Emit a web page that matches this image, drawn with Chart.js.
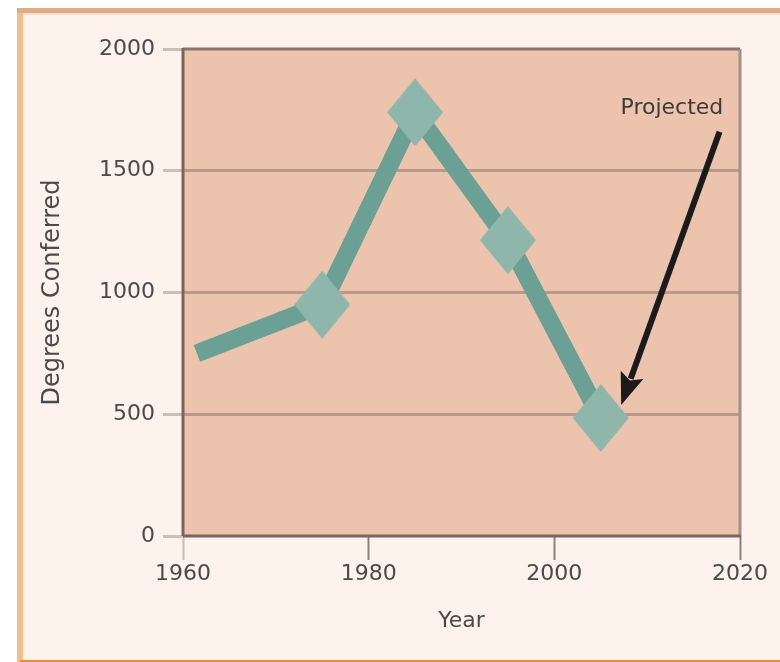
<!DOCTYPE html>
<html>
<head>
<meta charset="utf-8">
<script src="https://cdn.jsdelivr.net/npm/chart.js@4/dist/chart.umd.min.js"></script>
<style>
  html, body { margin: 0; padding: 0; background: #ffffff; }
  #wrap { width: 780px; height: 662px; }
</style>
</head>
<body>
<div id="wrap"><canvas id="c" width="780" height="662"></canvas></div>
<script>
// ---- Data ----
const years   = [1961.5, 1975, 1985, 1995, 2005];
const degrees = [750, 950, 1740, 1215, 485];
const hasMarker = [false, true, true, true, true];
const xTicks = [1960, 1980, 2000, 2020];
const yTicks = [0, 500, 1000, 1500, 2000];
const xTitle = 'Year';
const yTitle = 'Degrees Conferred';
const noteText = 'Projected';
const noteAt = [2018.2, 1735];      // data coords of note (right edge, baseline)
const arrowFrom = [2017.8, 1660];   // data coords
const arrowTo = [2007.2, 538];      // data coords

const FONT = "'DejaVu Sans', sans-serif";
const TEXT = '#4a4a4a';

// diamond marker image (slightly taller than wide, as in the reference)
function diamond(w, h, color) {
  const cv = document.createElement('canvas');
  cv.width = w; cv.height = h;
  const g = cv.getContext('2d');
  g.fillStyle = color;
  g.beginPath();
  g.moveTo(w / 2, 0); g.lineTo(w, h / 2); g.lineTo(w / 2, h); g.lineTo(0, h / 2);
  g.closePath(); g.fill();
  return cv;
}
const marker = diamond(56, 68, '#8eb6aa');

const framePlugin = {
  id: 'frame',
  beforeDraw(chart) {
    const ctx = chart.ctx;
    const a = chart.chartArea;
    ctx.save();
    ctx.fillStyle = '#ffffff';
    ctx.fillRect(0, 0, 780, 662);
    ctx.fillStyle = '#fdf3ec';
    ctx.fillRect(17, 8, 763, 654);
    ctx.fillStyle = '#f3be87';
    ctx.fillRect(17, 8, 6, 654);
    ctx.fillStyle = '#d9ae88';
    ctx.fillRect(17, 8, 763, 5);
    ctx.fillStyle = '#f4dcc8';
    ctx.fillRect(23, 13, 757, 2);
    ctx.fillStyle = '#e28d3c';
    ctx.fillRect(20, 660, 760, 2);
    // plot background
    ctx.fillStyle = '#ecc4ad';
    ctx.fillRect(a.left, a.top, a.right - a.left, a.bottom - a.top);
    ctx.restore();
  },
  beforeDatasetsDraw(chart) {
    const ctx = chart.ctx;
    const a = chart.chartArea;
    ctx.save();
    ctx.lineWidth = 3;
    ctx.strokeStyle = '#8c7269';
    ctx.beginPath(); ctx.moveTo(a.left, a.top); ctx.lineTo(a.right, a.top); ctx.stroke();
    ctx.strokeStyle = '#a09089';
    ctx.beginPath(); ctx.moveTo(a.right, a.top); ctx.lineTo(a.right, a.bottom); ctx.stroke();
    ctx.strokeStyle = '#7a655d';
    ctx.beginPath(); ctx.moveTo(a.left, a.top - 1); ctx.lineTo(a.left, a.bottom); ctx.stroke();
    ctx.beginPath(); ctx.moveTo(a.left, a.bottom); ctx.lineTo(a.right + 1, a.bottom); ctx.stroke();
    ctx.restore();
  },
  afterDatasetsDraw(chart) {
    const ctx = chart.ctx;
    const xs = chart.scales.x, ys = chart.scales.y;
    const x1 = xs.getPixelForValue(arrowFrom[0]), y1 = ys.getPixelForValue(arrowFrom[1]);
    const x2 = xs.getPixelForValue(arrowTo[0]), y2 = ys.getPixelForValue(arrowTo[1]);
    const dx = x2 - x1, dy = y2 - y1, L = Math.hypot(dx, dy);
    const ux = dx / L, uy = dy / L;
    const headLen = 32, headHalf = 12;
    const bx = x2 - ux * headLen, by = y2 - uy * headLen;
    ctx.save();
    ctx.strokeStyle = '#1c1a1a';
    ctx.fillStyle = '#1c1a1a';
    ctx.lineWidth = 6;
    ctx.beginPath(); ctx.moveTo(x1, y1); ctx.lineTo(bx + ux * 4, by + uy * 4); ctx.stroke();
    ctx.beginPath();
    ctx.moveTo(x2, y2);
    ctx.lineTo(bx - uy * headHalf, by + ux * headHalf);
    ctx.lineTo(bx + ux * 6, by + uy * 6);
    ctx.lineTo(bx + uy * headHalf, by - ux * headHalf);
    ctx.closePath(); ctx.fill();
    // note
    ctx.font = '22px ' + FONT;
    ctx.textAlign = 'right';
    ctx.textBaseline = 'alphabetic';
    ctx.fillStyle = '#3e3a38';
    ctx.fillText(noteText, xs.getPixelForValue(noteAt[0]), ys.getPixelForValue(noteAt[1]));
    ctx.restore();
  }
};

new Chart(document.getElementById('c'), {
  type: 'line',
  data: {
    datasets: [{
      data: years.map((y, i) => ({ x: y, y: degrees[i] })),
      borderColor: '#6ba094',
      borderWidth: 18,
      borderJoinStyle: 'miter',
      borderCapStyle: 'butt',
      fill: false,
      tension: 0,
      pointStyle: hasMarker.map(m => m ? marker : 'circle'),
      pointRadius: hasMarker.map(m => m ? 28 : 0),
      pointHoverRadius: hasMarker.map(m => m ? 28 : 0),
      pointBorderWidth: 0,
      pointBackgroundColor: '#8eb6aa',
      clip: false
    }]
  },
  options: {
    responsive: false,
    animation: false,
    events: [],
    layout: { padding: { top: 49, right: 40, bottom: 0, left: 0 } },
    plugins: { legend: { display: false }, tooltip: { enabled: false } },
    scales: {
      x: {
        type: 'linear',
        min: 1960, max: 2020,
        afterBuildTicks: s => { s.ticks = xTicks.map(v => ({ value: v })); },
        afterFit: s => { s.height = 126; s.paddingLeft = 0; s.paddingRight = 0; },
        ticks: {
          callback: v => String(v),
          font: { family: FONT, size: 22 },
          color: TEXT,
          padding: 1,
          maxRotation: 0,
          autoSkip: false
        },
        grid: {
          drawOnChartArea: false,
          drawTicks: true,
          tickLength: 24,
          tickWidth: 2,
          tickColor: ctx => ctx.tick && ctx.tick.value === 1960 ? '#c9bdb6' : '#8f827c'
        },
        border: { display: false },
        title: {
          display: true, text: xTitle,
          font: { family: FONT, size: 22 }, color: TEXT,
          padding: { top: 0, bottom: 28 }
        }
      },
      y: {
        type: 'linear',
        min: 0, max: 2000,
        afterBuildTicks: s => { s.ticks = yTicks.map(v => ({ value: v })); },
        afterFit: s => { s.width = 183; s.paddingTop = 0; s.paddingBottom = 0; },
        ticks: {
          callback: v => String(v),
          font: { family: FONT, size: 22 },
          color: TEXT,
          padding: 8
        },
        grid: {
          drawOnChartArea: true,
          drawTicks: true,
          tickLength: 20,
          lineWidth: 3,
          tickWidth: 3,
          color: ctx => (ctx.tick && (ctx.tick.value === 0 || ctx.tick.value === 2000)) ? 'rgba(0,0,0,0)' : '#b99a8a',
          tickColor: '#cdbfb7'
        },
        border: { display: false },
        title: {
          display: true, text: yTitle,
          font: { family: FONT, size: 24 }, color: TEXT,
          padding: { top: 38, bottom: 0 }
        }
      }
    }
  },
  plugins: [framePlugin]
});
</script>
</body>
</html>
